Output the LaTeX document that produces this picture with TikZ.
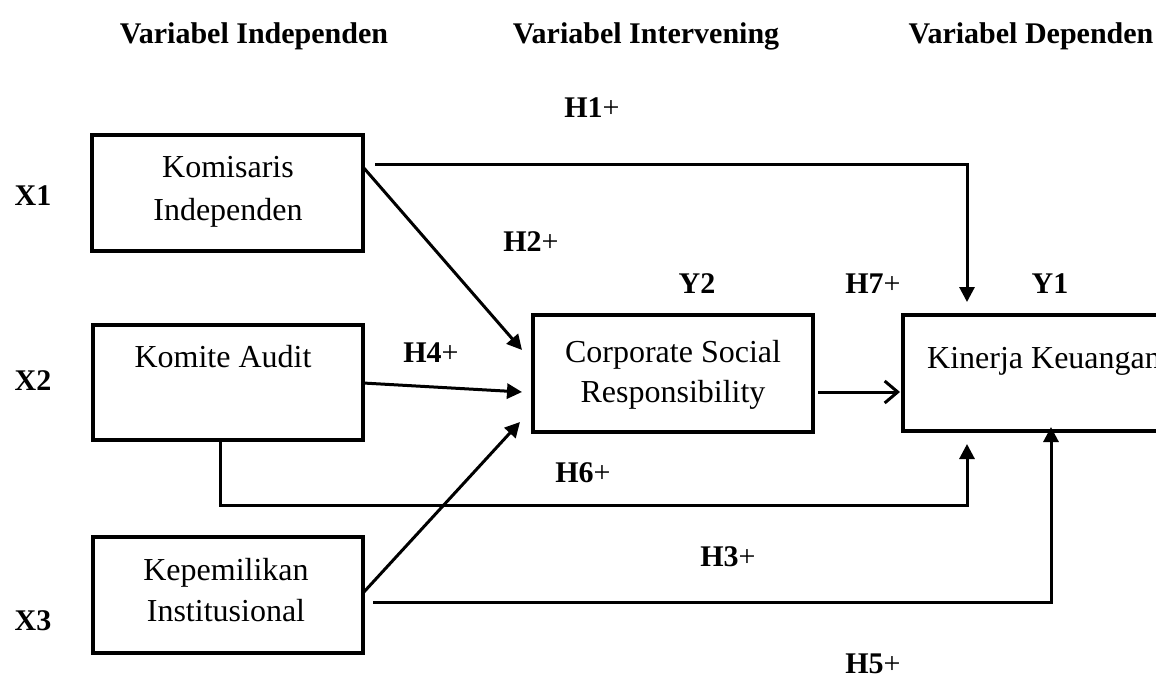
\documentclass[tikz,border=0pt]{standalone}
\usepackage{fontspec}
\setmainfont{Liberation Serif}
\usetikzlibrary{arrows.meta,calc}
\begin{document}
\begin{tikzpicture}[x=1pt,y=-1pt,
  box/.style={draw,line width=3.6pt,inner sep=0pt},
  conn/.style={line width=3pt},
  tip/.style={-{Triangle[length=15pt,width=15pt]}},
  barb/.style={-{Straight Barb[length=13pt,width=22pt,line width=3pt]}},
  hdr/.style={font=\fontsize{30}{36}\selectfont\bfseries,anchor=base,inner sep=0pt},
  lbl/.style={font=\fontsize{30}{36}\selectfont,anchor=base,inner sep=0pt},
  txt/.style={font=\fontsize{32}{40}\selectfont,anchor=base,inner sep=0pt}]
\useasboundingbox (0,0) rectangle (1156,680);

% headers
\node[hdr] (hInd) at (254,43) {Variabel Independen};
\node[hdr] (hInt) at (646,43) {Variabel Intervening};
\node[hdr] (hDep) at (1031,43) {Variabel Dependen};

% boxes
\node[box,minimum width=271pt,minimum height=116pt] (x1) at (227.5,193) {};
\node[box,minimum width=270pt,minimum height=115pt] (x2) at (228,382.5) {};
\node[box,minimum width=270pt,minimum height=116pt] (x3) at (228,595) {};
\node[box,minimum width=280pt,minimum height=117pt] (y2) at (673,373.5) {};
\node[box,minimum width=346pt,minimum height=116pt] (y1) at (1076,373) {};

% box texts
\node[txt] (t1a) at (228,177) {Komisaris};
\node[txt] (t1b) at (228,220) {Independen};
\node[txt] (t2) at (223,367) {Komite Audit};
\node[txt] (t3a) at (226,580) {Kepemilikan};
\node[txt] (t3b) at (226,621) {Institusional};
\node[txt] (t4a) at (673,362) {Corporate Social};
\node[txt] (t4b) at (673,402) {Responsibility};
\node[txt,anchor=base west] (t5) at (927,368) {Kinerja Keuangan};

% side labels
\node[hdr] (lx1) at (33,205) {X1};
\node[hdr] (lx2) at (33,390) {X2};
\node[hdr] (lx3) at (33,630) {X3};
\node[hdr] (ly2) at (697,293) {Y2};
\node[hdr] (ly1) at (1050,293) {Y1};

% hypothesis labels
\node[lbl] (h1) at (592,117) {\textbf{H1}+};
\node[lbl] (h2) at (531,251) {\textbf{H2}+};
\node[lbl] (h4) at (431,362) {\textbf{H4}+};
\node[lbl] (h7) at (873,293) {\textbf{H7}+};
\node[lbl] (h6) at (583,482) {\textbf{H6}+};
\node[lbl] (h3) at (728,566) {\textbf{H3}+};
\node[lbl] (h5) at (873,673) {\textbf{H5}+};

% connector end points
\coordinate (c1s) at (375,164);
\coordinate (c1e) at (967,302);
\coordinate (c2s) at (363,167);
\coordinate (c2e) at (522,350);
\coordinate (c4s) at (363,383);
\coordinate (c4e) at (522,392);
\coordinate (c6s) at (220,440);
\coordinate (c6m) at (220,505);
\coordinate (c6e) at (967,444);
\coordinate (c8s) at (363,593);
\coordinate (c8e) at (520,422);
\coordinate (c5s) at (373,602);
\coordinate (c5e) at (1051,427);
\coordinate (c7s) at (818,392);
\coordinate (c7e) at (900,392);

% connectors
\draw[conn,tip] (c1s) -| (c1e);
\draw[conn,tip] (c2s) -- (c2e);
\draw[conn,tip] (c4s) -- (c4e);
\draw[conn,tip] (c6s) -- (c6m) -| (c6e);
\draw[conn,tip] (c8s) -- (c8e);
\draw[conn,tip] (c5s) -| (c5e);
\draw[conn,barb] (c7s) -- (c7e);
\end{tikzpicture}
\end{document}
